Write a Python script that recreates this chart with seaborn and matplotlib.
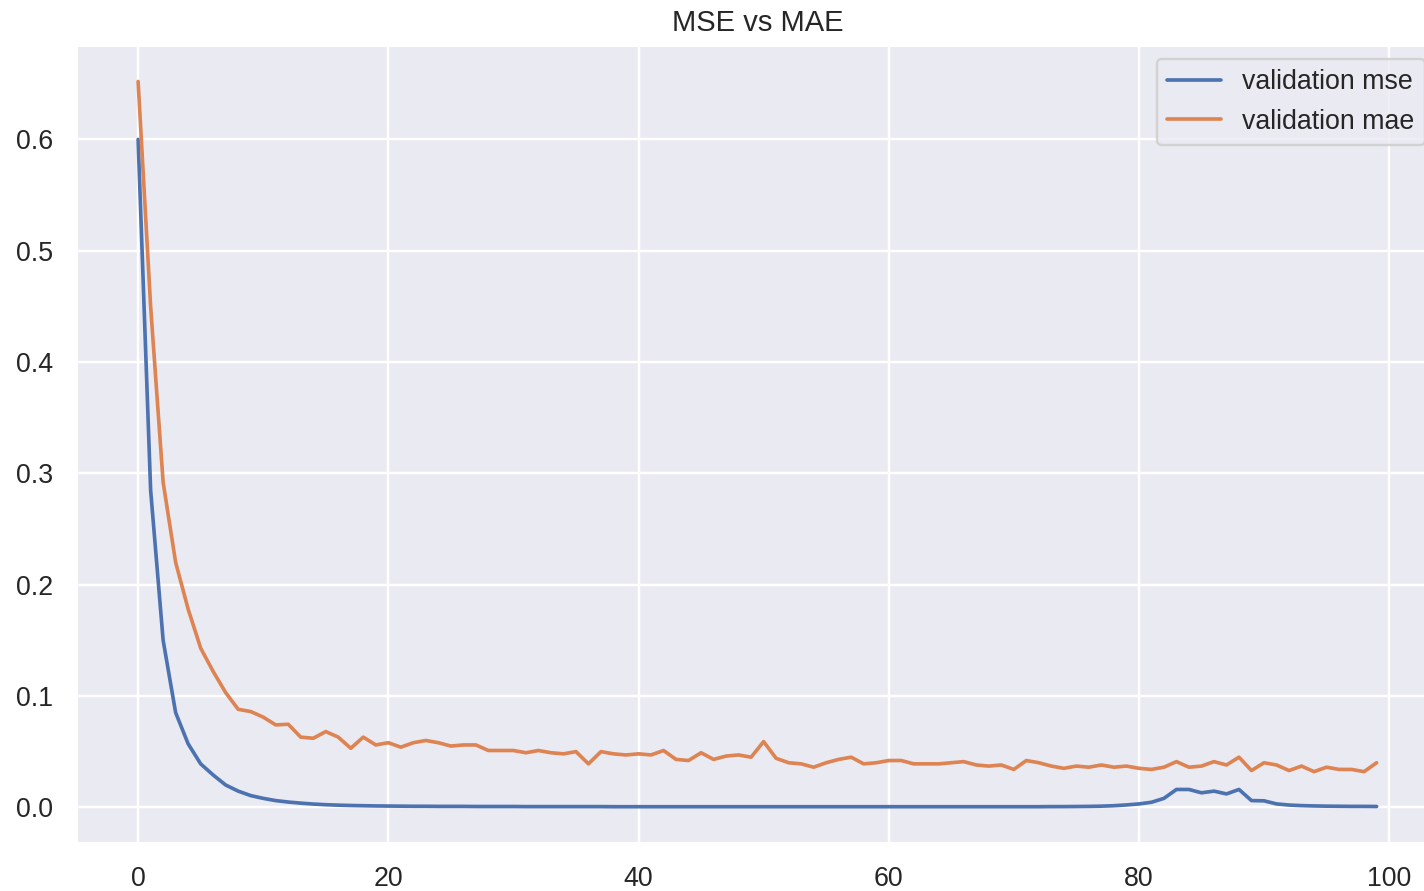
import matplotlib
matplotlib.use("Agg")
import matplotlib.pyplot as plt
import numpy as np
import seaborn as sns

# Validation metrics per training epoch
epochs = list(range(100))

val_mse = [
    0.600, 0.285, 0.150, 0.085, 0.057, 0.039, 0.029, 0.020, 0.0145, 0.0105,
    0.0080, 0.0060, 0.0047, 0.0037, 0.0029, 0.0023, 0.0019, 0.0016, 0.0014, 0.0012,
    0.0011, 0.0010, 0.0009, 0.0009, 0.0008, 0.0008, 0.0008, 0.0007, 0.0007, 0.0007,
    0.0007, 0.0006, 0.0006, 0.0006, 0.0006, 0.0006, 0.0006, 0.0006, 0.0005, 0.0005,
    0.0005, 0.0005, 0.0005, 0.0005, 0.0005, 0.0005, 0.0005, 0.0005, 0.0005, 0.0005,
    0.0005, 0.0005, 0.0005, 0.0005, 0.0005, 0.0005, 0.0005, 0.0005, 0.0005, 0.0005,
    0.0005, 0.0005, 0.0005, 0.0005, 0.0005, 0.0005, 0.0005, 0.0005, 0.0005, 0.0005,
    0.0005, 0.0005, 0.0005, 0.0006, 0.0006, 0.0007, 0.0008, 0.0010, 0.0014, 0.0021,
    0.0030, 0.0045, 0.0080, 0.0160, 0.0160, 0.0130, 0.0145, 0.0120, 0.0160, 0.0060,
    0.0058, 0.0030, 0.0020, 0.0015, 0.0012, 0.0010, 0.0009, 0.0008, 0.0008, 0.0007,
]

val_mae = [
    0.652, 0.450, 0.292, 0.220, 0.178, 0.143, 0.122, 0.103, 0.088, 0.086,
    0.081, 0.074, 0.0746, 0.063, 0.062, 0.068, 0.063, 0.053, 0.063, 0.056,
    0.058, 0.054, 0.058, 0.060, 0.058, 0.055, 0.056, 0.056, 0.051, 0.051,
    0.051, 0.049, 0.051, 0.049, 0.048, 0.050, 0.039, 0.050, 0.048, 0.047,
    0.048, 0.047, 0.051, 0.043, 0.042, 0.049, 0.043, 0.046, 0.047, 0.045,
    0.059, 0.044, 0.040, 0.039, 0.036, 0.040, 0.043, 0.045, 0.039, 0.040,
    0.042, 0.042, 0.039, 0.039, 0.039, 0.040, 0.041, 0.038, 0.037, 0.038,
    0.034, 0.042, 0.040, 0.037, 0.035, 0.037, 0.036, 0.038, 0.036, 0.037,
    0.035, 0.034, 0.036, 0.041, 0.036, 0.037, 0.041, 0.038, 0.045, 0.033,
    0.040, 0.038, 0.033, 0.037, 0.032, 0.036, 0.034, 0.034, 0.032, 0.040,
]

series_labels = ["validation mse", "validation mae"]
title = "MSE vs MAE"

sns.set_theme(style="darkgrid")
plt.rcParams["font.family"] = ["Liberation Sans", "DejaVu Sans"]

DPI = 175
fig = plt.figure(figsize=(1424 / DPI, 891 / DPI), dpi=DPI)
ax = fig.add_axes([0.0535, 0.0539, 0.9567, 0.8953])

sns.lineplot(x=epochs, y=val_mse, label=series_labels[0], ax=ax)
sns.lineplot(x=epochs, y=val_mae, label=series_labels[1], ax=ax)

ax.set_title(title)
ax.legend(loc="upper right")

fig.savefig("out.png", dpi=DPI)
